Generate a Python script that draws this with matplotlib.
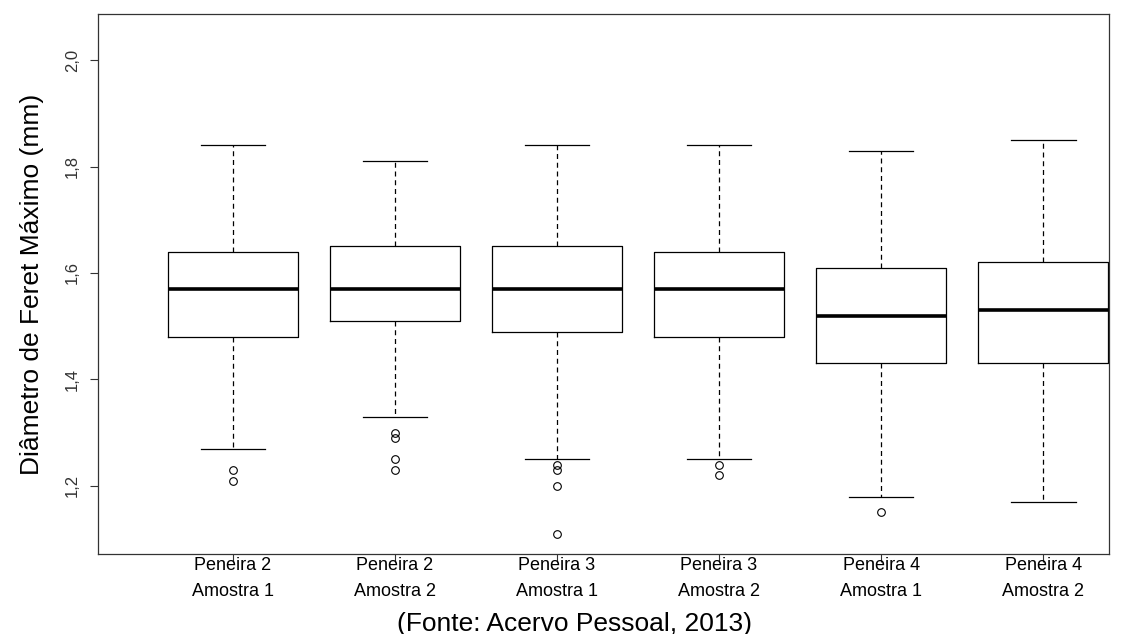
import matplotlib
matplotlib.use("Agg")
import matplotlib.pyplot as plt

plt.rcParams['font.family'] = ['Liberation Sans', 'DejaVu Sans']

# dados
grupos = ["Peneira 2\nAmostra 1", "Peneira 2\nAmostra 2", "Peneira 3\nAmostra 1",
          "Peneira 3\nAmostra 2", "Peneira 4\nAmostra 1", "Peneira 4\nAmostra 2"]
whis_inf = [1.27, 1.33, 1.25, 1.25, 1.18, 1.17]
q1 = [1.48, 1.51, 1.49, 1.48, 1.43, 1.43]
mediana = [1.57, 1.57, 1.57, 1.57, 1.52, 1.53]
q3 = [1.64, 1.65, 1.65, 1.64, 1.61, 1.62]
whis_sup = [1.84, 1.81, 1.84, 1.84, 1.83, 1.85]
outliers = [
    [1.23, 1.21],
    [1.30, 1.29, 1.25, 1.23],
    [1.24, 1.23, 1.20, 1.11],
    [1.24, 1.22],
    [1.15],
    [],
]
yticks = [1.2, 1.4, 1.6, 1.8, 2.0]

stats = []
for i in range(len(grupos)):
    stats.append(dict(med=mediana[i], q1=q1[i], q3=q3[i],
                      whislo=whis_inf[i], whishi=whis_sup[i], fliers=outliers[i]))

fig = plt.figure(figsize=(11.24, 6.34), dpi=100)
ax = fig.add_axes([0.0872, 0.1262, 0.8995, 0.8517])

pos = list(range(1, len(grupos) + 1))
ax.bxp(stats, positions=pos, widths=0.8, showfliers=True,
       boxprops=dict(color='black', linewidth=0.9),
       medianprops=dict(color='black', linewidth=2.6),
       whiskerprops=dict(color='black', linewidth=0.9, linestyle=(0, (4, 3))),
       capprops=dict(color='black', linewidth=0.9),
       capwidths=0.4,
       flierprops=dict(marker='o', markerfacecolor='none', markeredgecolor='black',
                       markersize=5.5, markeredgewidth=0.8))

ax.set_xlim(0.167, 6.407)
ax.set_ylim(1.072, 2.0866)
ax.set_yticks(yticks)
ax.set_yticklabels([f"{v:.1f}".replace('.', ',') for v in yticks],
                   rotation=90, va='center', fontsize=12, color='#333333')
ax.set_xticks(pos)
ax.set_xticklabels(grupos, fontsize=13, linespacing=1.68)
ax.tick_params(axis='y', length=6, width=0.8, color='#333333', pad=7)
ax.tick_params(axis='x', length=5.5, width=0.8, color='#333333', pad=-3)
for s in ax.spines.values():
    s.set_color('#333333')
    s.set_linewidth(0.9)

ax.set_ylabel("Diâmetro de Feret Máximo (mm)", fontsize=19, labelpad=15)
fig.text(0.511, 0.0052, "(Fonte: Acervo Pessoal, 2013)", fontsize=19,
         ha='center', va='baseline')

fig.savefig("out.png", dpi=100)
